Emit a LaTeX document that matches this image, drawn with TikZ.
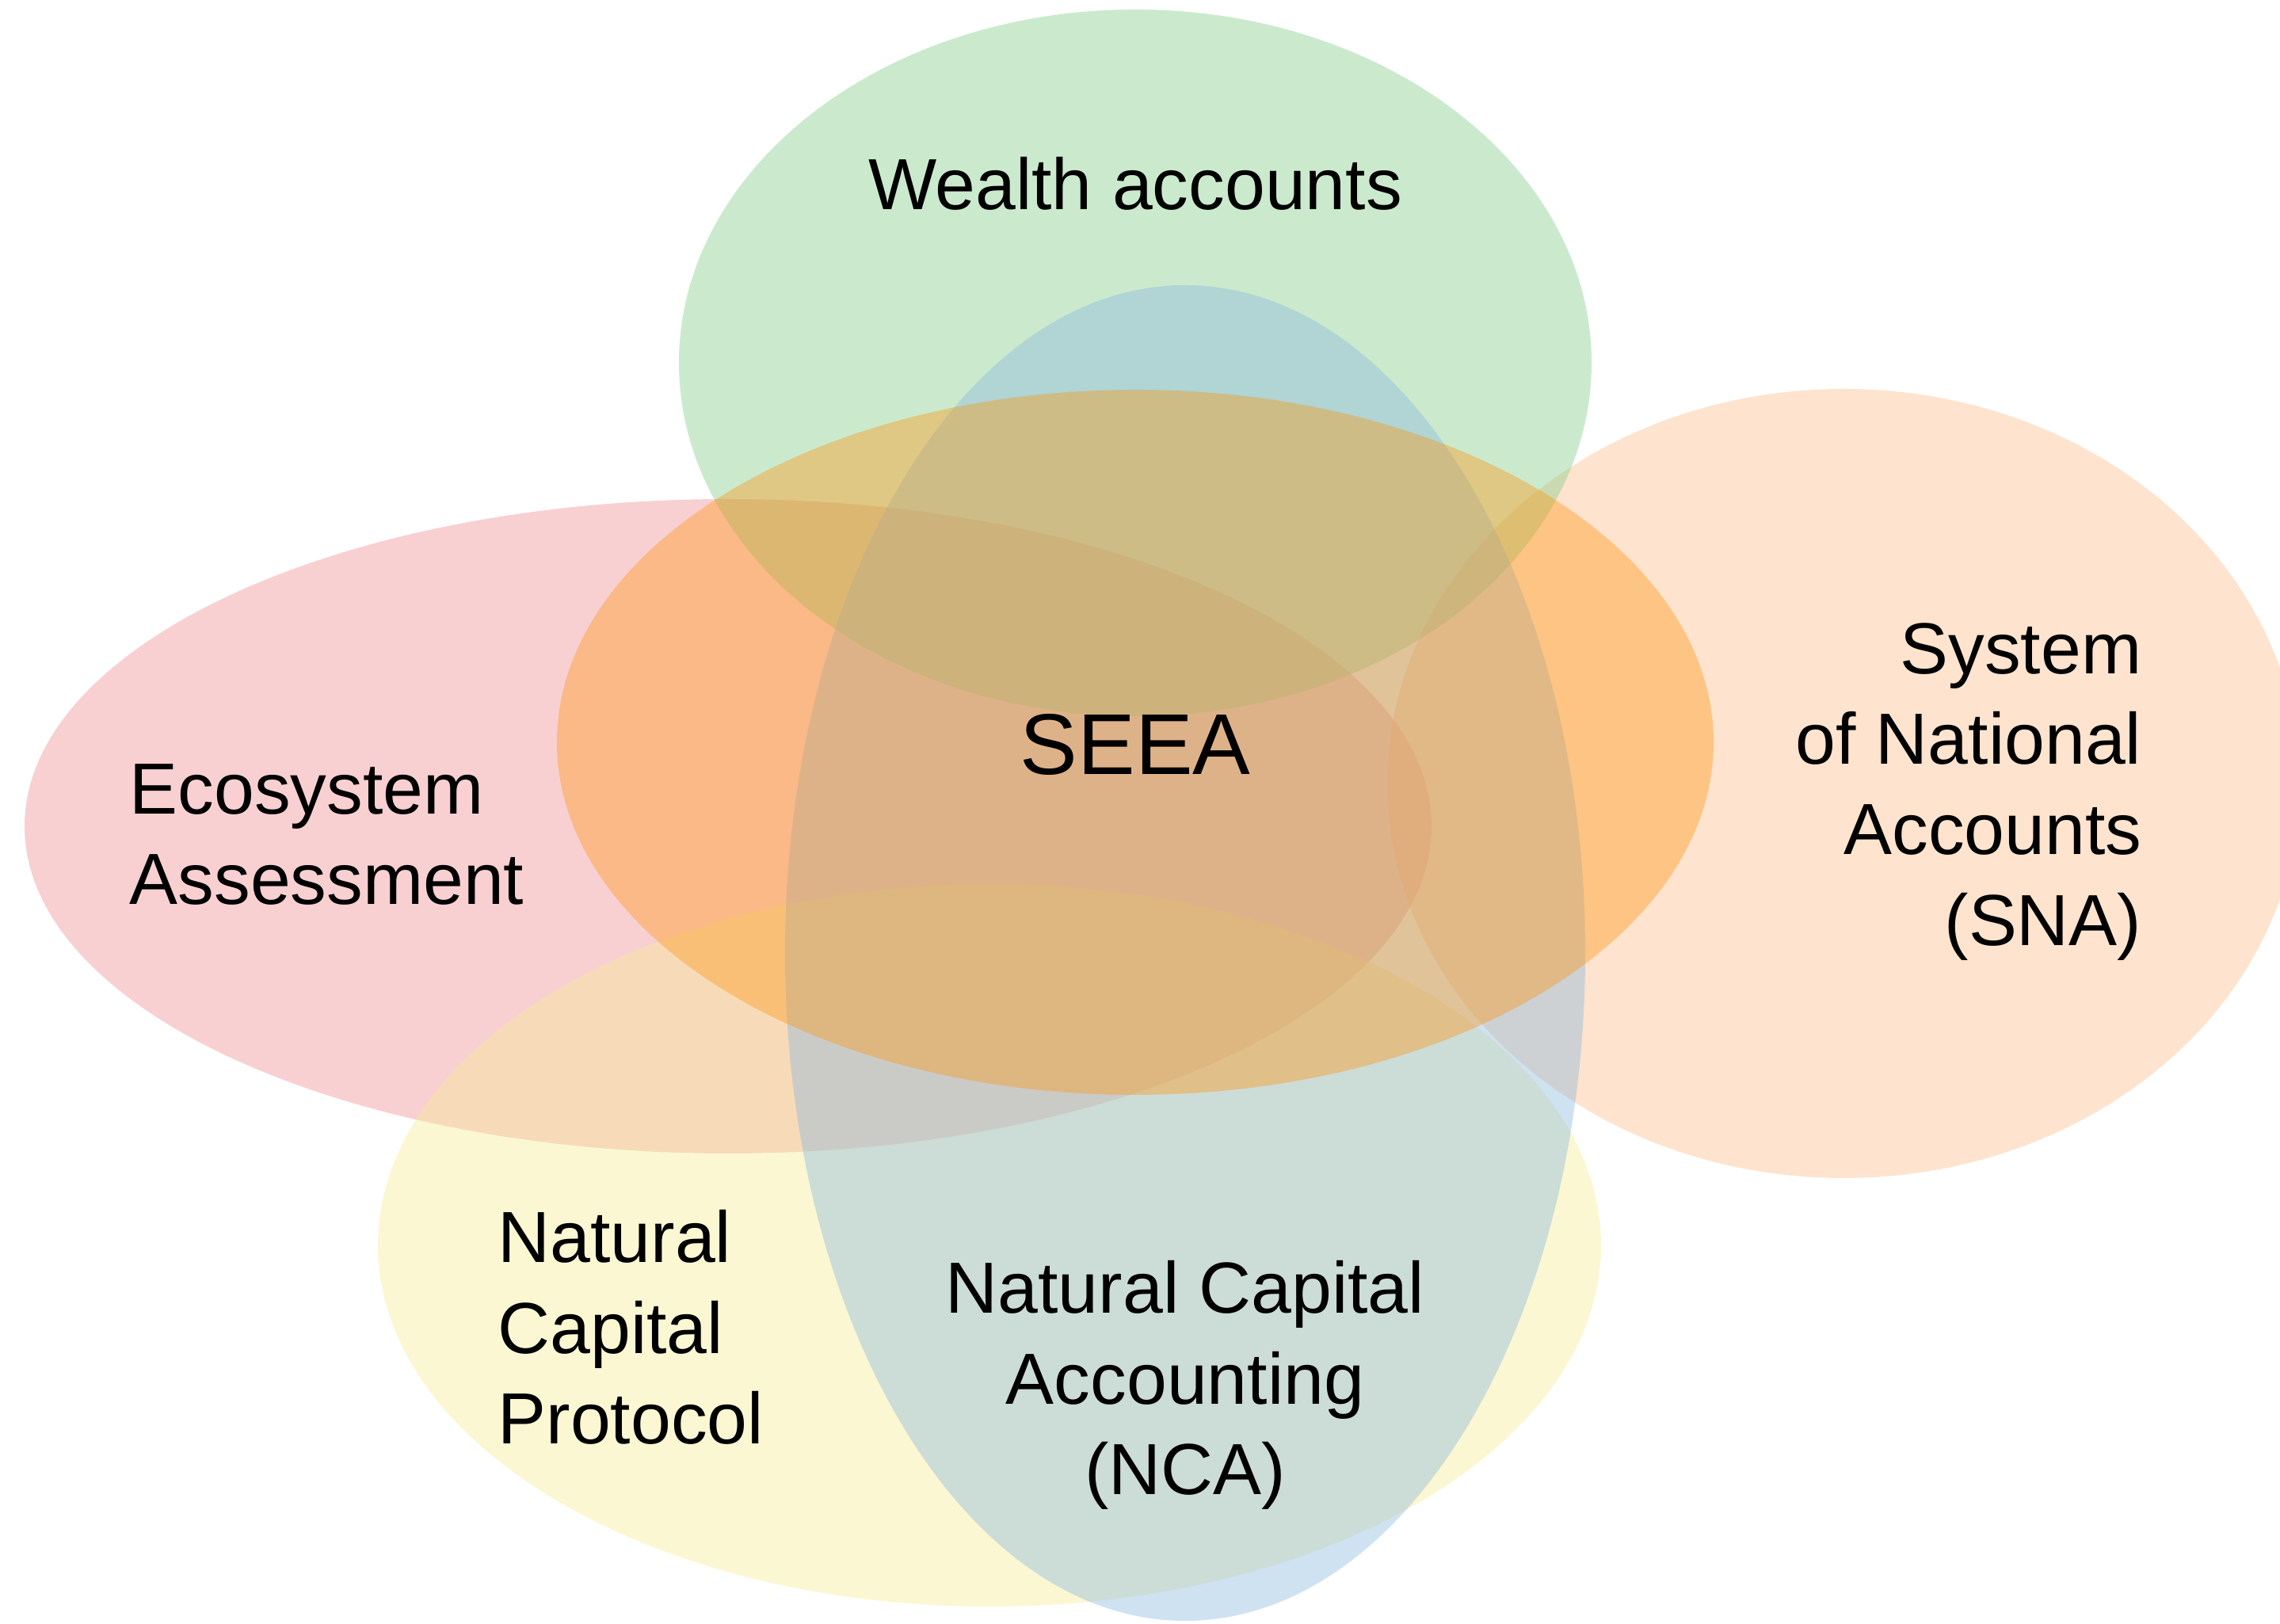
\documentclass[tikz,border=0pt]{standalone}
\usepackage{fontspec}
\setmainfont{Liberation Sans}
\definecolor{ecopink}{RGB}{238,138,143}
\definecolor{snapeach}{RGB}{252,185,132}
\definecolor{wealthgreen}{RGB}{125,202,130}
\definecolor{ncpyellow}{RGB}{245,235,145}
\definecolor{ncablue}{RGB}{135,182,222}
\definecolor{seeaorange}{RGB}{253,150,20}

\begin{document}
\begin{tikzpicture}[
  blob/.style={fill opacity=0.4},
  lbl/.style={inner sep=0pt, font=\fontsize{26}{32.5}\selectfont}
]
\useasboundingbox (0,0) rectangle (28.78,20.49);
\clip (0,0) rectangle (28.78,20.49);

% the circles of the diagram
\fill[blob, ecopink] (9.19,10.06) ellipse (8.88 and 4.13);
\fill[blob, snapeach] (23.27,10.60) ellipse (5.76 and 4.98);
\fill[blob, wealthgreen] (14.33,15.91) ellipse (5.76 and 4.46);
\fill[blob, ncpyellow] (12.49,4.77) ellipse (7.72 and 4.56);
\fill[blob, ncablue] (14.96,8.46) ellipse (5.05 and 8.43);
\fill[blob, seeaorange] (14.33,11.12) ellipse (7.30 and 4.45);

% labels
\node[lbl, anchor=north] (wealth) at (14.33,18.51) {Wealth accounts};
\node[lbl, anchor=north, font=\fontsize{31}{38}\selectfont] (seea) at (14.33,11.48) {SEEA};
\node[lbl, anchor=north west, align=left] (eco) at (1.63,10.85) {Ecosystem\\Assessment};
\node[lbl, anchor=north east, align=right] (sna) at (27.04,12.63) {System\\of National\\Accounts\\(SNA)};
\node[lbl, anchor=north west, align=left] (ncp) at (6.28,5.22) {Natural\\Capital\\Protocol};
\node[lbl, anchor=north, align=center] (nca) at (14.96,4.58) {Natural Capital\\Accounting\\(NCA)};

\end{tikzpicture}
\end{document}
